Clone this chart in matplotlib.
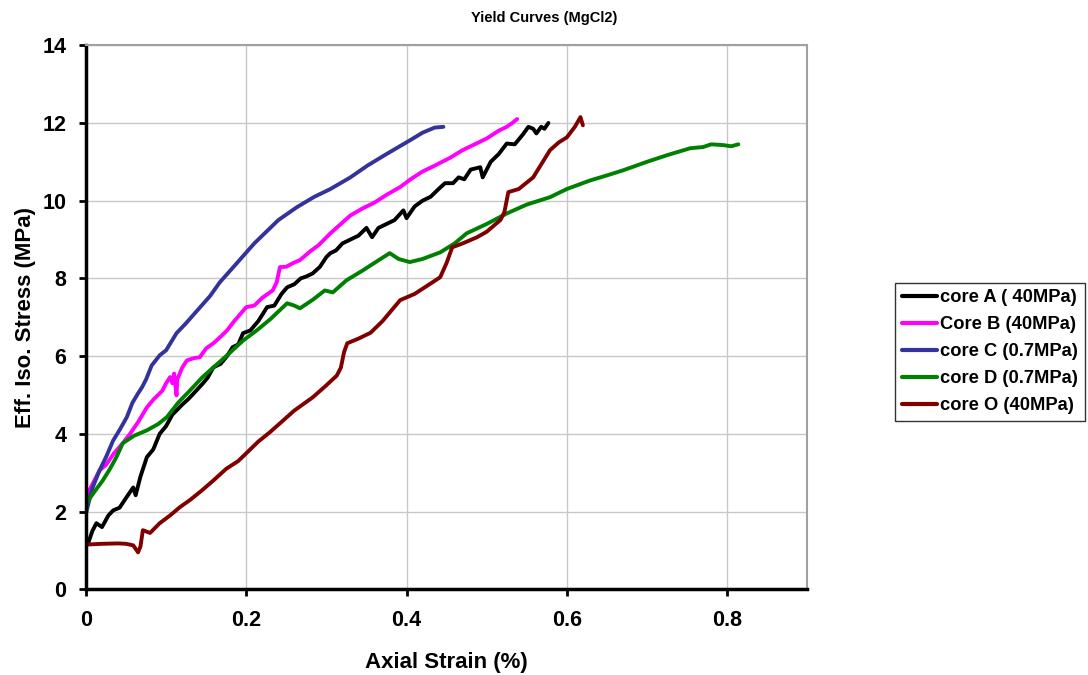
import numpy as np
import matplotlib.pyplot as plt

plt.rcParams["font.family"] = ["Liberation Sans", "DejaVu Sans"]
plt.rcParams["font.weight"] = "bold"

# strain (%) , stress (MPa)
core_a = np.array([
    (0, 0.8), (0, 1.3), (0.003, 1.2), (0.008, 1.5), (0.013, 1.7), (0.02, 1.6),
    (0.028, 1.9), (0.034, 2.03), (0.042, 2.1), (0.05, 2.35), (0.059, 2.62),
    (0.062, 2.42), (0.068, 2.9), (0.076, 3.4), (0.084, 3.6), (0.092, 4.0),
    (0.1, 4.2), (0.108, 4.5), (0.113, 4.6), (0.12, 4.75), (0.128, 4.9),
    (0.138, 5.12), (0.146, 5.3), (0.152, 5.45), (0.159, 5.71), (0.168, 5.8),
    (0.176, 6.0), (0.183, 6.23), (0.19, 6.3), (0.196, 6.59), (0.205, 6.66),
    (0.215, 6.9), (0.226, 7.26), (0.235, 7.3), (0.244, 7.6), (0.251, 7.77),
    (0.26, 7.85), (0.268, 8.0), (0.275, 8.05), (0.283, 8.13), (0.292, 8.3),
    (0.3, 8.55), (0.305, 8.65), (0.312, 8.72), (0.32, 8.9), (0.33, 9.0),
    (0.34, 9.1), (0.35, 9.3), (0.357, 9.06), (0.365, 9.3), (0.375, 9.4),
    (0.385, 9.5), (0.396, 9.75), (0.4, 9.55), (0.41, 9.85), (0.42, 10.0),
    (0.43, 10.1), (0.44, 10.3), (0.448, 10.45), (0.458, 10.45), (0.465, 10.6),
    (0.472, 10.55), (0.48, 10.8), (0.492, 10.86), (0.495, 10.6), (0.505, 11.0),
    (0.515, 11.2), (0.525, 11.47), (0.535, 11.45), (0.545, 11.7), (0.552, 11.9),
    (0.558, 11.85), (0.562, 11.73), (0.568, 11.9), (0.572, 11.85), (0.577, 12.0),
])

core_b = np.array([
    (0, 2.3), (0.003, 2.5), (0.008, 2.7), (0.017, 3.06), (0.025, 3.2),
    (0.035, 3.5), (0.046, 3.76), (0.055, 4.0), (0.065, 4.3), (0.076, 4.68),
    (0.085, 4.9), (0.095, 5.1), (0.1, 5.3), (0.105, 5.46), (0.108, 5.3),
    (0.11, 5.55), (0.113, 4.99), (0.114, 5.4), (0.12, 5.7), (0.126, 5.89),
    (0.135, 5.95), (0.142, 5.97), (0.15, 6.2), (0.159, 6.33), (0.168, 6.5),
    (0.176, 6.66), (0.185, 6.9), (0.2, 7.26), (0.21, 7.3), (0.22, 7.5),
    (0.233, 7.69), (0.238, 7.9), (0.242, 8.29), (0.25, 8.3), (0.258, 8.39),
    (0.267, 8.47), (0.28, 8.7), (0.29, 8.85), (0.305, 9.16), (0.318, 9.4),
    (0.33, 9.62), (0.345, 9.8), (0.36, 9.95), (0.375, 10.15), (0.392, 10.35),
    (0.405, 10.55), (0.42, 10.75), (0.435, 10.9), (0.454, 11.1), (0.47, 11.3),
    (0.485, 11.45), (0.5, 11.6), (0.515, 11.8), (0.525, 11.9), (0.532, 12.0),
    (0.538, 12.1),
])

core_c = np.array([
    (0, 1.95), (0.003, 2.2), (0.008, 2.6), (0.017, 3.06), (0.025, 3.4),
    (0.034, 3.83), (0.042, 4.1), (0.051, 4.43), (0.058, 4.8), (0.065, 5.04),
    (0.07, 5.2), (0.075, 5.4), (0.082, 5.76), (0.092, 6.02), (0.1, 6.15),
    (0.113, 6.59), (0.125, 6.85), (0.14, 7.2), (0.155, 7.55), (0.167, 7.9),
    (0.18, 8.2), (0.195, 8.55), (0.21, 8.9), (0.223, 9.16), (0.24, 9.5),
    (0.263, 9.83), (0.285, 10.1), (0.305, 10.3), (0.33, 10.6), (0.351, 10.9),
    (0.375, 11.2), (0.404, 11.55), (0.42, 11.75), (0.435, 11.88), (0.446, 11.9),
])

core_d = np.array([
    (0, 2.2), (0.005, 2.35), (0.012, 2.55), (0.021, 2.8), (0.03, 3.1),
    (0.038, 3.4), (0.046, 3.76), (0.06, 3.95), (0.076, 4.09), (0.09, 4.25),
    (0.101, 4.43), (0.115, 4.8), (0.13, 5.12), (0.145, 5.45), (0.159, 5.71),
    (0.175, 6.0), (0.196, 6.4), (0.213, 6.66), (0.23, 6.95), (0.251, 7.36),
    (0.26, 7.3), (0.267, 7.23), (0.283, 7.45), (0.298, 7.69), (0.308, 7.64),
    (0.325, 7.95), (0.345, 8.2), (0.36, 8.4), (0.379, 8.65), (0.39, 8.5),
    (0.404, 8.42), (0.42, 8.5), (0.442, 8.67), (0.46, 8.9), (0.475, 9.16),
    (0.5, 9.4), (0.525, 9.67), (0.55, 9.9), (0.579, 10.09), (0.6, 10.3),
    (0.629, 10.52), (0.65, 10.65), (0.67, 10.78), (0.7, 11.0), (0.725, 11.17),
    (0.754, 11.35), (0.77, 11.38), (0.78, 11.45), (0.795, 11.43), (0.805, 11.4),
    (0.814, 11.45),
])

core_o = np.array([
    (0, 1.15), (0.02, 1.17), (0.04, 1.18), (0.05, 1.17), (0.059, 1.13),
    (0.065, 0.95), (0.068, 1.1), (0.071, 1.52), (0.08, 1.45), (0.092, 1.7),
    (0.105, 1.9), (0.117, 2.11), (0.13, 2.3), (0.145, 2.55), (0.159, 2.8),
    (0.175, 3.1), (0.19, 3.3), (0.2, 3.5), (0.215, 3.8), (0.23, 4.05),
    (0.242, 4.27), (0.26, 4.6), (0.283, 4.94), (0.3, 5.25), (0.313, 5.5),
    (0.318, 5.7), (0.322, 6.1), (0.326, 6.33), (0.34, 6.45), (0.355, 6.6),
    (0.37, 6.9), (0.392, 7.44), (0.41, 7.6), (0.425, 7.8), (0.442, 8.03),
    (0.45, 8.4), (0.457, 8.8), (0.47, 8.9), (0.488, 9.06), (0.5, 9.2),
    (0.517, 9.5), (0.522, 9.7), (0.527, 10.22), (0.54, 10.3), (0.558, 10.6),
    (0.57, 11.0), (0.579, 11.3), (0.59, 11.5), (0.6, 11.63), (0.61, 11.9),
    (0.617, 12.15), (0.62, 11.94),
])

labels = ["core A ( 40MPa)", "Core B (40MPa)", "core C (0.7MPa)",
          "core D (0.7MPa)", "core O (40MPa)"]
colors = ["#000000", "#FF00FF", "#333399", "#008000", "#800000"]
series = [core_a, core_b, core_c, core_d, core_o]

fig = plt.figure(figsize=(10.88, 6.75), dpi=100)
ax = fig.add_axes([0.079, 0.127, 0.663, 0.806])

for data, lab, col in zip(series, labels, colors):
    ax.plot(data[:, 0], data[:, 1], color=col, lw=2.8, label=lab,
            solid_joinstyle="round", solid_capstyle="round")

ax.set_xlim(0, 0.9)
ax.set_ylim(0, 14)
ax.set_xticks([0, 0.2, 0.4, 0.6, 0.8])
ax.set_xticklabels(["0", "0.2", "0.4", "0.6", "0.8"])
ax.set_yticks(range(0, 15, 2))
ax.grid(True, color="#c8c8c8", lw=1)
ax.set_axisbelow(True)

for s in ["left", "bottom"]:
    ax.spines[s].set_linewidth(2.5)
    ax.spines[s].set_color("black")
for s in ["top", "right"]:
    ax.spines[s].set_linewidth(1.5)
    ax.spines[s].set_color("#a0a0a0")
ax.tick_params(direction="out", length=5, width=2, labelsize=15.5)
ax.tick_params(axis="x", pad=10)
ax.tick_params(axis="y", pad=9)

ax.set_xlabel("Axial Strain (%)", fontsize=16, fontweight="bold", labelpad=15)
ax.set_ylabel("Eff. Iso. Stress (MPa)", fontsize=16, fontweight="bold", labelpad=5)
fig.text(0.5, 0.973, "Yield Curves (MgCl2)", ha="center", va="center",
         fontsize=10.5, fontweight="bold")

leg = ax.legend(loc="center left", bbox_to_anchor=(0.823, 0.479),
                bbox_transform=fig.transFigure, frameon=True, fancybox=False,
                edgecolor="black", fontsize=13.2, handlelength=1.9,
                handletextpad=0.2, borderpad=0.35, labelspacing=0.55,
                borderaxespad=0)
leg.get_frame().set_linewidth(1)
for t in leg.get_texts():
    t.set_fontweight("bold")
for h in leg.get_lines():
    h.set_linewidth(3)

fig.savefig("out.png", dpi=100)
